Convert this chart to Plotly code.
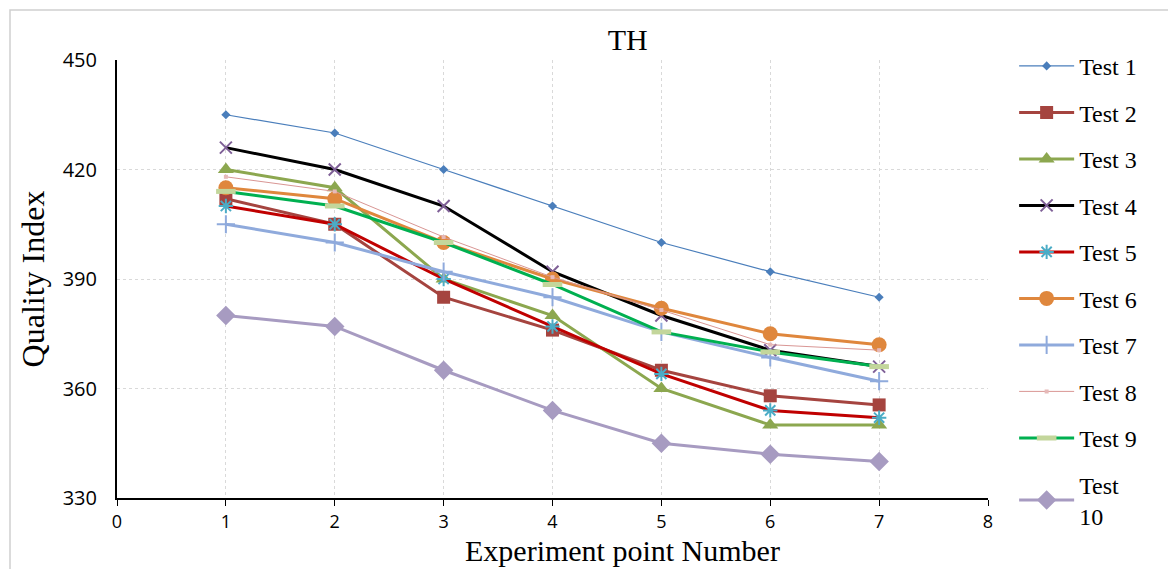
import plotly.graph_objects as go

x_points = [1, 2, 3, 4, 5, 6, 7]
series_names = ["Test 1", "Test 2", "Test 3", "Test 4", "Test 5",
                "Test 6", "Test 7", "Test 8", "Test 9", "Test<br>10"]
test1 = [435, 430, 420, 410, 400, 392, 385]
test2 = [412, 405, 385, 376, 365, 358, 355.5]
test3 = [420, 415, 390, 380, 360, 350, 350]
test4 = [426, 420, 410, 392, 380, 370.5, 366]
test5 = [410, 405, 390, 377, 364, 354, 352]
test6 = [415, 412, 400, 390, 382, 375, 372]
test7 = [405, 400, 392, 385, 375.5, 368.5, 362]
test8 = [418, 414, 401.5, 390.5, 381.5, 372, 370.5]
test9 = [414, 410, 400, 388.5, 375.5, 370, 366]
test10 = [380, 377, 365, 354, 345, 342, 340]
all_values = [test1, test2, test3, test4, test5, test6, test7, test8, test9, test10]

styles = [
    dict(line=dict(color="#4A7EBB", width=1.2), marker=dict(symbol="diamond", size=7, color="#4A7EBB")),
    dict(line=dict(color="#A5443F", width=3), marker=dict(symbol="square", size=13, color="#A5443F")),
    dict(line=dict(color="#8CA74F", width=3), marker=dict(symbol="triangle-up", size=14, color="#8CA74F")),
    dict(line=dict(color="#000000", width=3), marker=dict(symbol="x-thin-open", size=12, color="#7F6097", line=dict(color="#7F6097", width=2))),
    dict(line=dict(color="#C00000", width=3), marker=dict(symbol="asterisk-open", size=12, color="#4BACC6", line=dict(color="#4BACC6", width=2))),
    dict(line=dict(color="#DF873D", width=3), marker=dict(symbol="circle", size=15, color="#DF873D")),
    dict(line=dict(color="#8FAADC", width=3), marker=dict(symbol="cross-thin-open", size=13, color="#8FAADC", line=dict(color="#8FAADC", width=2))),
    dict(line=dict(color="#D99694", width=1), marker=dict(symbol="square", size=4, color="#E6B9B8")),
    dict(line=dict(color="#00B050", width=3), marker=dict(symbol="line-ew-open", size=14, color="#C3D69B", line=dict(color="#C3D69B", width=5))),
    dict(line=dict(color="#A79BC1", width=3), marker=dict(symbol="diamond", size=15, color="#A79BC1")),
]

fig = go.Figure()
for i, (name, vals, st) in enumerate(zip(series_names, all_values, styles)):
    fig.add_trace(go.Scatter(x=x_points, y=vals, name=name, mode="lines+markers",
                             legendgroup=f"g{i}", **st))

serif = "Liberation Serif, Times New Roman, serif"
sans = "Open Sans, Noto Sans, sans-serif"

fig.update_layout(
    width=1168, height=569,
    margin=dict(l=117, r=180, t=60, b=71),
    paper_bgcolor="white", plot_bgcolor="white",
    title=dict(text="TH", x=0.5375, xanchor="center", y=0.93, yanchor="middle",
               font=dict(family=serif, size=30, color="#000")),
    showlegend=True,
    legend=dict(x=1.03, y=1.037, xanchor="left", yanchor="top",
                font=dict(family=serif, size=24, color="#000"),
                tracegroupgap=12.3, bgcolor="rgba(0,0,0,0)", itemwidth=55,
                maxheight=700),
    xaxis=dict(range=[0, 8], dtick=1, tick0=0, showgrid=True, gridcolor="#D9D9D9",
               griddash="dot", gridwidth=1, showline=True, linecolor="#000", linewidth=2,
               ticks="outside", ticklen=6, tickcolor="#000", zeroline=False,
               ticklabelstandoff=0, automargin=False,
               tickfont=dict(family=sans, size=18, color="#000")),
    yaxis=dict(range=[330, 450], dtick=30, tick0=330, showgrid=True, gridcolor="#D9D9D9",
               griddash="dot", gridwidth=1, showline=True, linecolor="#000", linewidth=2,
               ticks="", zeroline=False, ticklabelstandoff=14, automargin=False,
               tickfont=dict(family=sans, size=20, color="#000"),
               title=dict(text="Quality Index", standoff=8,
                          font=dict(family=serif, size=32, color="#000"))),
    annotations=[dict(text="Experiment point Number", xref="paper", yref="paper",
                      x=(622 - 117) / 871, y=(498 - 568) / 438, xanchor="center", yanchor="bottom",
                      showarrow=False, borderpad=0,
                      font=dict(family=serif, size=30, color="#000"))],
    shapes=[dict(type="rect", xref="paper", yref="paper",
                 x0=(10 - 117) / 871, x1=(1200 - 117) / 871,
                 y0=-0.3, y1=1 + (60 - 10) / 438,
                 line=dict(color="#D0D0D0", width=1.5), layer="below")],
)

fig.write_html("out.html")
